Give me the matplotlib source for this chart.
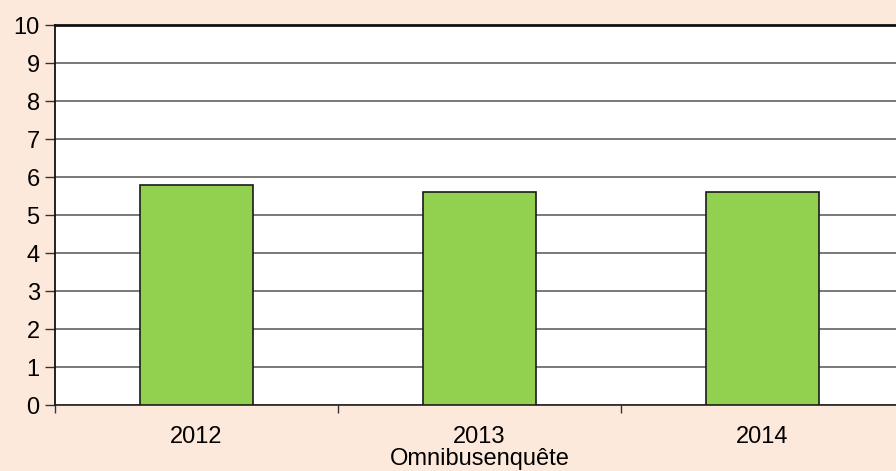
import matplotlib
matplotlib.use("Agg")
import matplotlib.pyplot as plt
import numpy as np

years = ["2012", "2013", "2014"]
values = [5.8, 5.6, 5.6]
yticks = list(range(0, 11))
xlabel = "Omnibusenquête"

plt.rcParams['font.family'] = ['Liberation Sans', 'DejaVu Sans']

bg = "#FDE9DB"
fs = 17
fig = plt.figure(figsize=(8.96, 4.71), dpi=100, facecolor=bg)
# axes spans x from 55px to ~904px (beyond figure edge), y from 25 to 405 px
ax = fig.add_axes([55/896, 1-405/471, (904-55)/896, (405-25)/471])
ax.set_facecolor("white")

x = np.arange(len(years))
ax.bar(x, values, width=0.4, color="#92D050", edgecolor="#1a1a1a", linewidth=1.2, zorder=3)

ax.set_xlim(-0.5, len(years) - 0.5)
ax.set_ylim(0, 10)
ax.set_yticks(yticks)
ax.set_yticklabels([str(t) for t in yticks], fontsize=fs)
ax.yaxis.grid(True, color="#555555", linewidth=1.1, zorder=0)
ax.set_axisbelow(True)

ax.set_xticks(x)
ax.set_xticklabels(years, fontsize=fs)
ax.tick_params(axis='x', which='major', length=0, pad=15)
ax.set_xticks(np.arange(-0.5, len(years) + 0.5, 1), minor=True)
ax.tick_params(axis='x', which='minor', length=6, width=1, color="#333333", direction='out')
ax.tick_params(axis='y', length=7, width=1, color="#333333", direction='out', pad=4)

ax.spines["right"].set_visible(False)
ax.spines["top"].set_linewidth(2)
ax.spines["top"].set_color("#111111")
ax.spines["left"].set_linewidth(1.3)
ax.spines["left"].set_color("#111111")
ax.spines["bottom"].set_linewidth(1.2)
ax.spines["bottom"].set_color("#222222")

fig.text(479.5/896, 1-459/471, xlabel, fontsize=fs, ha='center', va='center')

fig.savefig("out.png", dpi=100, facecolor=bg)
